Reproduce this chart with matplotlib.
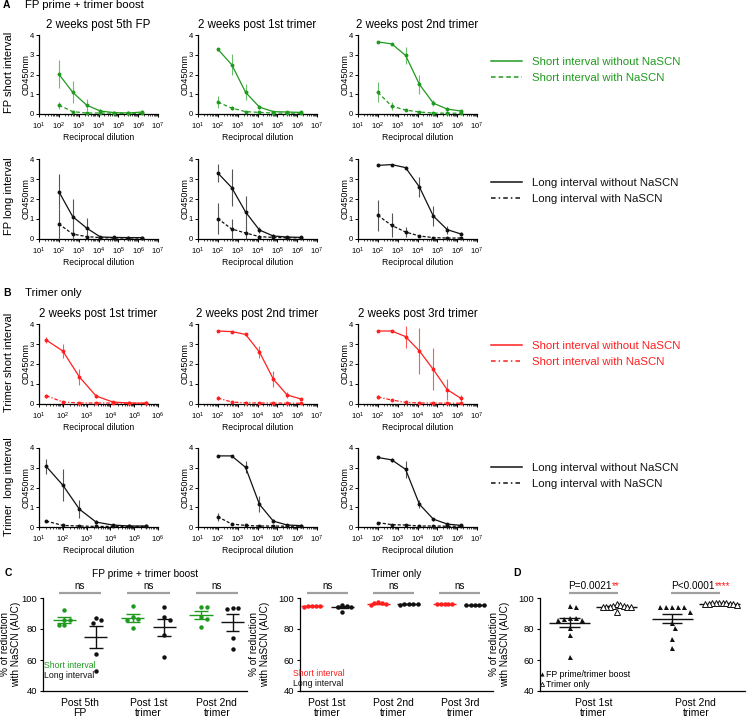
import numpy as np
import matplotlib
matplotlib.use('Agg')
import matplotlib.pyplot as plt
from matplotlib.lines import Line2D
from matplotlib.ticker import LogLocator, NullFormatter

plt.rcParams['font.family'] = ['Liberation Sans', 'DejaVu Sans']
plt.rcParams['mathtext.fontset'] = 'custom'
plt.rcParams['mathtext.rm'] = 'Liberation Sans'
plt.rcParams['mathtext.it'] = 'Liberation Sans:italic'
plt.rcParams['mathtext.bf'] = 'Liberation Sans:bold'
plt.rcParams['axes.linewidth'] = 0.9

# ---------------- data ----------------
dil_100 = [100, 500, 2500, 12500, 62500, 312500, 1562500]
dil_20 = [20, 100, 500, 2500, 12500, 62500, 312500]

# A, FP short interval (green)
fps_5fp_wo = [2.02, 1.10, 0.45, 0.15, 0.07, 0.05, 0.10]
fps_5fp_wo_err = [0.70, 0.55, 0.30, 0.10, 0.05, 0.03, 0.08]
fps_5fp_w = [0.45, 0.12, 0.05, 0.05, 0.04, 0.03, 0.03]
fps_5fp_w_err = [0.18, 0.05, 0.03, 0.02, 0.02, 0.01, 0.01]
fps_1t_wo = [3.28, 2.50, 1.10, 0.35, 0.12, 0.10, 0.08]
fps_1t_wo_err = [0.08, 0.55, 0.40, 0.10, 0.05, 0.03, 0.02]
fps_1t_w = [0.60, 0.30, 0.12, 0.08, 0.05, 0.04, 0.04]
fps_1t_w_err = [0.32, 0.10, 0.05, 0.03, 0.02, 0.01, 0.01]
fps_2t_wo = [3.65, 3.55, 2.97, 1.50, 0.55, 0.25, 0.15]
fps_2t_wo_err = [0.03, 0.03, 0.42, 0.50, 0.15, 0.08, 0.06]
fps_2t_w = [1.10, 0.40, 0.20, 0.10, 0.05, 0.04, 0.04]
fps_2t_w_err = [0.50, 0.20, 0.05, 0.03, 0.02, 0.01, 0.01]

# A, FP long interval (black)
fpl_5fp_wo = [2.37, 1.12, 0.55, 0.10, 0.08, 0.07, 0.07]
fpl_5fp_wo_err = [0.88, 0.90, 0.50, 0.05, 0.03, 0.02, 0.03]
fpl_5fp_w = [0.75, 0.25, 0.12, 0.07, 0.05, 0.05, 0.05]
fpl_5fp_w_err = [0.73, 0.25, 0.10, 0.03, 0.02, 0.01, 0.01]
fpl_1t_wo = [3.30, 2.57, 1.35, 0.45, 0.15, 0.10, 0.08]
fpl_1t_wo_err = [0.45, 0.92, 0.80, 0.15, 0.08, 0.05, 0.03]
fpl_1t_w = [1.02, 0.50, 0.30, 0.12, 0.08, 0.06, 0.06]
fpl_1t_w_err = [0.78, 0.50, 0.30, 0.10, 0.03, 0.02, 0.01]
fpl_2t_wo = [3.68, 3.72, 3.57, 2.60, 1.15, 0.47, 0.25]
fpl_2t_wo_err = [0.02, 0.03, 0.07, 0.52, 0.48, 0.20, 0.08]
fpl_2t_w = [1.18, 0.68, 0.35, 0.15, 0.07, 0.05, 0.05]
fpl_2t_w_err = [0.77, 0.60, 0.25, 0.06, 0.03, 0.02, 0.01]

# B, Trimer short interval (red)
trs_1t_wo = [3.20, 2.65, 1.35, 0.40, 0.10, 0.05, 0.04]
trs_1t_wo_err = [0.13, 0.33, 0.38, 0.10, 0.03, 0.02, 0.01]
trs_1t_w = [0.42, 0.10, 0.05, 0.05, 0.05, 0.04, 0.04]
trs_1t_w_err = [0.10, 0.03, 0.02, 0.01, 0.01, 0.01, 0.01]
trs_2t_wo = [3.65, 3.62, 3.48, 2.60, 1.25, 0.45, 0.25]
trs_2t_wo_err = [0.02, 0.03, 0.05, 0.30, 0.40, 0.15, 0.06]
trs_2t_w = [0.30, 0.10, 0.06, 0.05, 0.05, 0.04, 0.04]
trs_2t_w_err = [0.10, 0.03, 0.02, 0.01, 0.01, 0.01, 0.01]
trs_3t_wo = [3.65, 3.65, 3.37, 2.65, 1.73, 0.72, 0.28]
trs_3t_wo_err = [0.02, 0.05, 0.55, 1.15, 1.05, 0.52, 0.15]
trs_3t_w = [0.35, 0.20, 0.08, 0.05, 0.05, 0.04, 0.04]
trs_3t_w_err = [0.12, 0.05, 0.02, 0.01, 0.01, 0.01, 0.01]

# B, Trimer long interval (black)
trl_1t_wo = [3.07, 2.12, 0.90, 0.25, 0.10, 0.05, 0.05]
trl_1t_wo_err = [0.37, 0.82, 0.45, 0.12, 0.05, 0.02, 0.02]
trl_1t_w = [0.30, 0.08, 0.05, 0.03, 0.03, 0.03, 0.03]
trl_1t_w_err = [0.03, 0.02, 0.01, 0.01, 0.01, 0.01, 0.01]
trl_2t_wo = [3.60, 3.60, 3.02, 1.15, 0.30, 0.10, 0.07]
trl_2t_wo_err = [0.02, 0.02, 0.30, 0.40, 0.10, 0.05, 0.03]
trl_2t_w = [0.52, 0.15, 0.08, 0.05, 0.05, 0.04, 0.04]
trl_2t_w_err = [0.20, 0.05, 0.02, 0.01, 0.01, 0.01, 0.01]
trl_3t_wo = [3.52, 3.40, 2.92, 1.15, 0.40, 0.15, 0.08]
trl_3t_wo_err = [0.07, 0.10, 0.42, 0.20, 0.08, 0.05, 0.03]
trl_3t_w = [0.22, 0.12, 0.10, 0.05, 0.05, 0.04, 0.04]
trl_3t_w_err = [0.03, 0.02, 0.02, 0.01, 0.01, 0.01, 0.01]

# C, % reduction (AUC)
c_fp_groups = ['Post 5th\nFP', 'Post 1st\ntrimer', 'Post 2nd\ntrimer']
c_fp_short = [[92.5, 86.0, 85.5, 82.5, 82.5],
              [95.0, 87.5, 86.5, 86.0, 80.5],
              [94.5, 94.0, 88.0, 86.5, 81.0]]
c_fp_long = [[87.0, 86.0, 84.0, 64.0, 53.0],
             [94.0, 87.5, 86.0, 76.0, 62.0],
             [93.5, 93.5, 93.0, 74.0, 67.0]]
c_tr_groups = ['Post 1st\ntrimer', 'Post 2nd\ntrimer', 'Post 3rd\ntrimer']
c_tr_short = [[95.0, 94.8, 94.6, 94.8, 94.2],
              [96.2, 97.2, 96.5, 96.5, 95.5],
              [96.3, 96.3, 96.3, 96.0, 96.0]]
c_tr_long = [[95.5, 94.5, 94.5, 91.0, 94.8],
             [96.3, 96.3, 96.3, 96.3, 95.8],
             [95.5, 95.5, 95.5, 95.5, 95.2]]

# D
d_groups = ['Post 1st\ntrimer', 'Post 2nd\ntrimer']
d_fp = [[95.0, 94.0, 87.0, 87.0, 86.5, 86.0, 86.0, 80.5, 76.0, 62.0],
        [94.5, 94.0, 94.0, 94.0, 94.0, 91.0, 84.0, 80.5, 73.5, 67.5]]
d_tr = [[96.0, 95.5, 95.0, 95.0, 94.5, 94.5, 94.5, 94.5, 94.5, 91.0],
        [97.0, 97.0, 96.5, 96.5, 96.5, 96.0, 96.0, 96.0, 96.0, 95.5]]
d_pvals = ['P=0.0021', 'P<0.0001']
d_stars = ['**', '****']

# ---------------- style ----------------
GREEN = '#1f9a1f'
GREEN_E = '#6cbf6c'
RED = '#ff1f1f'
RED_E = '#ff5a5a'
BLACK = '#111111'
BLACK_E = '#555555'
GRAY = '#a0a0a0'

W, H = 750, 717
fig = plt.figure(figsize=(7.5, 7.17), dpi=100)


def add_ax(l, t, r, b):
    return fig.add_axes([l / W, 1 - b / H, (r - l) / W, (b - t) / H])


def elisa(ax, x, wo, wo_e, w, w_e, color, ecolor, ls_w, xmax, title=None):
    for y, e, ls in ((wo, wo_e, '-'), (w, w_e, ls_w)):
        y = np.asarray(y, float)
        e = np.asarray(e, float)
        lower = np.minimum(e, y)
        ax.errorbar(x, y, yerr=[lower, e], color=color, ecolor=ecolor, ls=ls,
                    lw=0.9, elinewidth=0.8, capsize=2.3, capthick=0.8,
                    marker='o', ms=2.8, mew=0, clip_on=False, zorder=3)
    ax.set_xscale('log')
    ax.set_xlim(10, xmax)
    ax.set_ylim(0, 4)
    ax.set_yticks([0, 1, 2, 3, 4])
    ax.xaxis.set_major_locator(LogLocator(base=10, numticks=12))
    ax.xaxis.set_minor_locator(LogLocator(base=10, subs=np.arange(2, 10), numticks=100))
    ax.xaxis.set_minor_formatter(NullFormatter())
    ax.tick_params(labelsize=5.5, length=2.2, width=0.7, pad=1.5)
    ax.tick_params(axis='x', pad=2.5)
    ax.tick_params(which='minor', length=1.3, width=0.5)
    for s in ('top', 'right'):
        ax.spines[s].set_visible(False)
    ax.set_xlabel('Reciprocal dilution', fontsize=6.2, labelpad=0.5)
    ax.set_ylabel('OD450nm', fontsize=6.5)
    ax.yaxis.set_label_coords(-8 / 119, 0.5)
    if title:
        ax.set_title(title, fontsize=8.3, pad=5)


cols_l = [39, 198, 358]
cw = 119
rows = [(35, 114), (159, 239), (324, 404), (448, 527)]

panels = [
    # row, col, x, wo, wo_e, w, w_e, color, ecolor, ls, xmax, title
    (0, 0, dil_100, fps_5fp_wo, fps_5fp_wo_err, fps_5fp_w, fps_5fp_w_err, GREEN, GREEN_E, (0, (3, 2)), 1e7, '2 weeks post 5th FP'),
    (0, 1, dil_100, fps_1t_wo, fps_1t_wo_err, fps_1t_w, fps_1t_w_err, GREEN, GREEN_E, (0, (3, 2)), 1e7, '2 weeks post 1st trimer'),
    (0, 2, dil_100, fps_2t_wo, fps_2t_wo_err, fps_2t_w, fps_2t_w_err, GREEN, GREEN_E, (0, (3, 2)), 1e7, '2 weeks post 2nd trimer'),
    (1, 0, dil_100, fpl_5fp_wo, fpl_5fp_wo_err, fpl_5fp_w, fpl_5fp_w_err, BLACK, BLACK_E, (0, (2.5, 1.5)), 1e7, None),
    (1, 1, dil_100, fpl_1t_wo, fpl_1t_wo_err, fpl_1t_w, fpl_1t_w_err, BLACK, BLACK_E, (0, (2.5, 1.5)), 1e7, None),
    (1, 2, dil_100, fpl_2t_wo, fpl_2t_wo_err, fpl_2t_w, fpl_2t_w_err, BLACK, BLACK_E, (0, (2.5, 1.5)), 1e7, None),
    (2, 0, dil_20, trs_1t_wo, trs_1t_wo_err, trs_1t_w, trs_1t_w_err, RED, RED_E, (0, (3, 1.5, 1, 1.5)), 1e6, '2 weeks post 1st trimer'),
    (2, 1, dil_100, trs_2t_wo, trs_2t_wo_err, trs_2t_w, trs_2t_w_err, RED, RED_E, (0, (3, 1.5, 1, 1.5)), 1e7, '2 weeks post 2nd trimer'),
    (2, 2, dil_100, trs_3t_wo, trs_3t_wo_err, trs_3t_w, trs_3t_w_err, RED, RED_E, (0, (3, 1.5, 1, 1.5)), 1e7, '2 weeks post 3rd trimer'),
    (3, 0, dil_20, trl_1t_wo, trl_1t_wo_err, trl_1t_w, trl_1t_w_err, BLACK, BLACK_E, (0, (2.5, 1.5)), 1e6, None),
    (3, 1, dil_100, trl_2t_wo, trl_2t_wo_err, trl_2t_w, trl_2t_w_err, BLACK, BLACK_E, (0, (2.5, 1.5)), 1e7, None),
    (3, 2, dil_100, trl_3t_wo, trl_3t_wo_err, trl_3t_w, trl_3t_w_err, BLACK, BLACK_E, (0, (2.5, 1.5)), 1e7, None),
]
for (r, c, x, wo, woe, w, we, col, ecol, ls, xmax, title) in panels:
    t, b = rows[r]
    ax = add_ax(cols_l[c], t, cols_l[c] + cw, b)
    elisa(ax, x, wo, woe, w, we, col, ecol, ls, xmax, title)

# row labels
for txt, yc in (('FP short interval', 72), ('FP long interval', 196),
                ('Trimer short interval', 362), ('Trimer  long interval', 487)):
    fig.text(9 / W, 1 - yc / H, txt, rotation=90, ha='center', va='center', fontsize=8)

# section headers
fig.text(3 / W, 1 - 5 / H, 'A', fontsize=7.5, fontweight='bold', va='center')
fig.text(25 / W, 1 - 5 / H, 'FP prime + trimer boost', fontsize=8.2, va='center')
fig.text(3 / W, 1 - 293 / H, 'B', fontsize=7.5, fontweight='bold', va='center')
fig.text(25 / W, 1 - 293 / H, 'Trimer only', fontsize=8.2, va='center')
fig.text(5 / W, 1 - 573 / H, 'C', fontsize=7.5, fontweight='bold', va='center')
fig.text(513 / W, 1 - 573 / H, 'D', fontsize=7.5, fontweight='bold', va='center')

# legends for A / B rows
leg_specs = [
    (57, GREEN, (0, (3, 2)), 'Short interval without NaSCN', 'Short interval with NaSCN'),
    (178, BLACK, (0, (3, 2, 1, 2)), 'Long interval without NaSCN', 'Long interval with NaSCN'),
    (341, RED, (0, (3, 2, 1, 2)), 'Short interval without NaSCN', 'Short interval with NaSCN'),
    (463, BLACK, (0, (3, 2, 1, 2)), 'Long interval without NaSCN', 'Long interval with NaSCN'),
]
for (ytop, col, ls, l1, l2) in leg_specs:
    hs = [Line2D([], [], color=col, lw=1.1, ls='-'), Line2D([], [], color=col, lw=1.1, ls=ls)]
    fig.legend(hs, [l1, l2], loc='upper left', bbox_to_anchor=(491 / W, 1 - ytop / H),
               frameon=False, fontsize=8.2, handlelength=2.7, handletextpad=0.9,
               labelspacing=0.5, borderpad=0, borderaxespad=0, labelcolor=col)


# ---------------- C & D ----------------
def swarm(ax, center, values, dot_px):
    t = ax.transData
    vals = np.asarray(values, float)
    xc = t.transform((center, 0))[0]
    ypx = np.array([t.transform((center, v))[1] for v in vals])
    placed = []
    offs = np.zeros(len(vals))
    cands = [0.0]
    for k in range(1, 30):
        cands += [k * dot_px / 2, -k * dot_px / 2]
    for i in np.argsort(-vals):
        for cnd in cands:
            if all((cnd - px) ** 2 + (ypx[i] - py) ** 2 >= (dot_px * 0.98) ** 2 for px, py in placed):
                break
        placed.append((cnd, ypx[i]))
        offs[i] = cnd
    inv = t.inverted()
    return [inv.transform((xc + o, 0))[0] for o in offs]


def mean_sem(ax, x, vals, color, hm, hs, lw=1.0, z=2):
    vals = np.asarray(vals, float)
    m = vals.mean()
    s = vals.std(ddof=1) / np.sqrt(len(vals))
    ax.hlines(m, x - hm, x + hm, color=color, lw=lw, zorder=z)
    ax.vlines(x, m - s, m + s, color=color, lw=lw, zorder=z)
    ax.hlines([m - s, m + s], x - hs, x + hs, color=color, lw=lw, zorder=z)


def style_c(ax, xlim, groups, ylab_off):
    ax.set_xlim(*xlim)
    ax.set_ylim(40, 100)
    ax.set_yticks([40, 60, 80, 100])
    ax.set_xticks(range(1, len(groups) + 1))
    ax.set_xticklabels(groups, fontsize=7.5, linespacing=1.05)
    ax.tick_params(axis='x', length=0, pad=5)
    ax.tick_params(axis='y', labelsize=6.8, length=2.5, width=0.8, pad=1.5)
    for s in ('top', 'right'):
        ax.spines[s].set_visible(False)
    ax.set_ylabel('% of reduction\nwith NaSCN (AUC)', fontsize=7.2, linespacing=1.1)
    ax.yaxis.set_label_coords(ylab_off, 0.5)


def sig_bar(ax, x0, x1, text):
    ax.plot([x0, x1], [103.2, 103.2], color=GRAY, lw=1.6, clip_on=False, solid_capstyle='butt')
    ax.text((x0 + x1) / 2, 104.6, text, ha='center', va='bottom', fontsize=7)


# C left
axc1 = add_ax(43, 598, 247, 691)
style_c(axc1, (0.46, 3.44), c_fp_groups, -22 / 204)
axc1.set_title('FP prime + trimer boost', fontsize=7.3, pad=15)
off = 0.23
for i in range(3):
    g = i + 1
    xs = swarm(axc1, g - off, c_fp_short[i], 5.5)
    axc1.plot(xs, c_fp_short[i], 'o', color=GREEN, ms=3.2, mew=0, clip_on=False, zorder=3)
    mean_sem(axc1, g - off, c_fp_short[i], GREEN, 0.17, 0.1)
    xs = swarm(axc1, g + off, c_fp_long[i], 5.5)
    axc1.plot(xs, c_fp_long[i], 'o', color=BLACK, ms=3.2, mew=0, clip_on=False, zorder=3)
    mean_sem(axc1, g + off, c_fp_long[i], BLACK, 0.17, 0.1)
    sig_bar(axc1, g - 0.31, g + 0.31, 'ns')
axc1.text(1 / 204, 1 - 67 / 93, 'Short interval', color=GREEN, fontsize=6.3,
          transform=axc1.transAxes, va='center')
axc1.text(1 / 204, 1 - 78 / 93, 'Long interval', color=BLACK, fontsize=6.3,
          transform=axc1.transAxes, va='center')

# C right
axc2 = add_ax(300, 598, 493, 691)
style_c(axc2, (0.59, 3.5), c_tr_groups, -30 / 193)
axc2.set_title('Trimer only', fontsize=7.3, pad=15)
for i in range(3):
    g = i + 1
    xs = swarm(axc2, g - off, c_tr_short[i], 3.8)
    mean_sem(axc2, g - off, c_tr_short[i], RED, 0.17, 0.1)
    axc2.plot(xs, c_tr_short[i], 'o', color=RED, ms=3.2, mew=0, clip_on=False, zorder=3)
    xs = swarm(axc2, g + off, c_tr_long[i], 4.4)
    mean_sem(axc2, g + off, c_tr_long[i], BLACK, 0.17, 0.1)
    axc2.plot(xs, c_tr_long[i], 'o', color=BLACK, ms=3.2, mew=0, clip_on=False, zorder=3)
    sig_bar(axc2, g - 0.31, g + 0.31, 'ns')
axc2.text(-7 / 193, 1 - 76 / 93, 'Short interval', color=RED, fontsize=6.3,
          transform=axc2.transAxes, va='center')
axc2.text(-7 / 193, 1 - 86 / 93, 'Long interval', color=BLACK, fontsize=6.3,
          transform=axc2.transAxes, va='center')

# D
axd = add_ax(540, 598, 745, 691)
style_c(axd, (0.48, 2.48), d_groups, -30 / 205)
offd = 0.23
for i in range(2):
    g = i + 1
    xs = swarm(axd, g - offd, d_fp[i], 6.0)
    axd.plot(xs, d_fp[i], '^', color=BLACK, ms=3.6, mew=0, clip_on=False, zorder=3)
    mean_sem(axd, g - offd, d_fp[i], BLACK, 0.2, 0.1)
    xs = swarm(axd, g + offd, d_tr[i], 3.5)
    mean_sem(axd, g + offd, d_tr[i], BLACK, 0.2, 0.1)
    axd.plot(xs, d_tr[i], '^', mfc='white', mec=BLACK, ms=3.8, mew=0.7, clip_on=False, zorder=3)
    axd.plot([g - 0.24, g + 0.24], [103.2, 103.2], color=GRAY, lw=1.6, clip_on=False, solid_capstyle='butt')
    tt = axd.text(g - 0.03, 104.6, d_pvals[i], ha='center', va='bottom', fontsize=7.2)
    axd.annotate(d_stars[i], xy=(1, 0), xycoords=tt, va='bottom', ha='left',
                 color=RED, fontsize=7.2)
hd = [Line2D([], [], ls='none', marker='^', color=BLACK, ms=3, mew=0),
      Line2D([], [], ls='none', marker='^', mfc='white', mec=BLACK, ms=3, mew=0.6)]
axd.legend(hd, ['FP prime/trimer boost', 'Trimer only'], loc='lower left',
           bbox_to_anchor=(0.0, 0.02), frameon=False, fontsize=6.3, handlelength=0.5,
           handletextpad=0.2, labelspacing=0.1, borderpad=0, borderaxespad=0)

fig.savefig('out.png', dpi=100)
